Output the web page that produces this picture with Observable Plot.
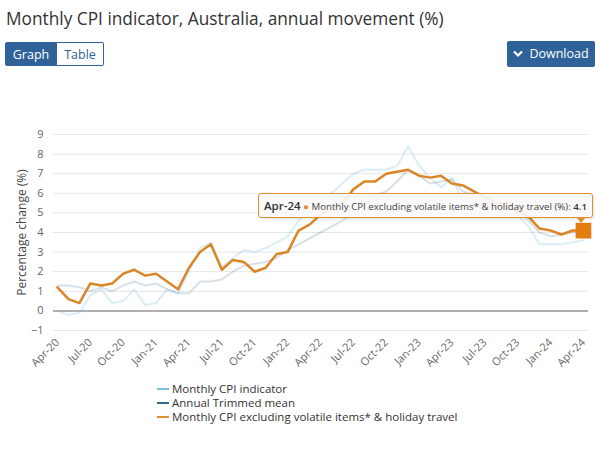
<!DOCTYPE html>
<html><head><meta charset="utf-8">
<script src="https://cdn.jsdelivr.net/npm/d3@7"></script>
<script src="https://cdn.jsdelivr.net/npm/@observablehq/plot@0.6"></script>
<style>
html,body{margin:0;padding:0;background:#fff}
body{width:601px;height:452px;position:relative;overflow:hidden;font-family:"Open Sans",sans-serif;color:#333}
#title{position:absolute;left:6px;top:7px;font-size:17.3px;line-height:24px;white-space:nowrap;color:#333}
.btn{position:absolute;top:42px;height:24px;line-height:24px;font-size:12.5px;box-sizing:border-box;text-align:center}
#graph{left:5px;width:52px;background:#2e6299;color:#fff;border:1px solid #2e6299;border-radius:2px 0 0 2px}
#table{left:57px;width:47px;background:#fff;color:#2e6299;border:1px solid #2e6299;border-left:none;border-radius:0 2px 2px 0}
#download{left:507px;width:88px;height:26px;line-height:26px;top:41px;background:#2e6299;color:#fff;border-radius:2px}
#download svg{vertical-align:middle;margin-right:6px;margin-top:-2px}
#chart{position:absolute;left:0;top:120px}
#tip{position:absolute;box-sizing:border-box;height:25px;line-height:23px;padding:0 5px;background:rgba(248,248,248,0.92);border:1px solid #e0902f;border-radius:3px;font-size:9.7px;color:#444;white-space:nowrap;box-shadow:1px 1px 2px rgba(0,0,0,0.12)}
#tip b{font-weight:600;color:#333}
#tip .big{font-size:11.5px}
#tip:after{content:"";position:absolute;right:6px;bottom:-6px;width:0;height:0;border-left:5px solid transparent;border-right:5px solid transparent;border-top:6px solid #e0902f}
#legend{position:absolute;left:157px;top:382px;font-size:11.5px;line-height:14px;color:#333}
#legend .sw{display:inline-block;width:12px;height:2px;vertical-align:middle;margin-right:3px;margin-top:-2px}
</style></head><body>
<div id="title">Monthly CPI indicator, Australia, annual movement (%)</div>
<div class="btn" id="graph">Graph</div>
<div class="btn" id="table">Table</div>
<div class="btn" id="download"><svg width="10" height="8" viewBox="0 0 10 8"><path d="M1 1.5 L5 5.5 L9 1.5" fill="none" stroke="#fff" stroke-width="2.2"/></svg>Download</div>
<div id="chart"></div>
<div id="tip"></div>
<div id="legend"></div>
<script>
const months = ["Apr-20","May-20","Jun-20","Jul-20","Aug-20","Sep-20","Oct-20","Nov-20","Dec-20",
  "Jan-21","Feb-21","Mar-21","Apr-21","May-21","Jun-21","Jul-21","Aug-21","Sep-21","Oct-21","Nov-21","Dec-21",
  "Jan-22","Feb-22","Mar-22","Apr-22","May-22","Jun-22","Jul-22","Aug-22","Sep-22","Oct-22","Nov-22","Dec-22",
  "Jan-23","Feb-23","Mar-23","Apr-23","May-23","Jun-23","Jul-23","Aug-23","Sep-23","Oct-23","Nov-23","Dec-23",
  "Jan-24","Feb-24","Mar-24","Apr-24"];
const monthlyCPI = [0.0,-0.2,-0.1,0.8,1.1,0.4,0.5,1.1,0.3,
  0.4,1.1,0.9,2.0,3.2,3.5,2.2,2.7,3.1,3.0,3.2,3.5,
  3.8,4.6,5.2,5.6,6.0,6.5,7.0,7.2,7.2,7.2,7.4,8.4,
  7.4,6.8,6.3,6.8,5.6,5.4,4.9,5.2,5.6,4.9,4.3,3.4,
  3.4,3.4,3.5,3.6];
const trimmedMean = [1.3,1.3,1.2,1.0,1.2,1.0,1.3,1.5,1.3,
  1.4,1.1,0.9,0.9,1.5,1.5,1.6,2.0,2.3,2.4,2.5,2.7,
  3.1,3.4,3.7,4.0,4.3,4.6,5.0,5.4,5.9,6.1,6.6,7.2,
  6.9,6.5,6.6,6.7,6.1,5.9,5.6,5.5,5.3,5.1,4.6,4.0,
  3.8,3.9,4.0,4.1];
const exVolatile = [1.2,0.6,0.4,1.4,1.3,1.4,1.9,2.1,1.8,
  1.9,1.5,1.1,2.2,3.0,3.4,2.1,2.6,2.5,2.0,2.2,2.9,
  3.0,4.1,4.4,4.9,5.2,5.5,6.2,6.6,6.6,7.0,7.1,7.2,
  6.9,6.8,6.9,6.5,6.4,6.1,5.8,5.5,5.5,5.1,4.8,4.2,
  4.1,3.9,4.1,4.1];
const seriesNames = ["Monthly CPI indicator","Annual Trimmed mean","Monthly CPI excluding volatile items* & holiday travel"];
const seriesColors = ["#7cc0df","#3a6688","#e0902f"];
const yTicks = [-1,0,1,2,3,4,5,6,7,8,9];
const xTickLabels = ["Apr-20","Jul-20","Oct-20","Jan-21","Apr-21","Jul-21","Oct-21","Jan-22","Apr-22","Jul-22","Oct-22","Jan-23","Apr-23","Jul-23","Oct-23","Jan-24","Apr-24"];
const yTitle = "Percentage change (%)";

const seriesValues = [monthlyCPI, trimmedMean, exVolatile];
const rows = seriesNames.map((name, s) => months.map((m, i) => ({i, month: m, value: seriesValues[s][i], series: name})));
const xTicks = xTickLabels.map(l => months.indexOf(l));
const last = rows[2][rows[2].length - 1];

const chart = Plot.plot({
  width: 601, height: 262,
  marginLeft: 53, marginRight: 13, marginTop: 14, marginBottom: 52,
  style: {fontFamily: '"Open Sans", sans-serif', fontSize: "11px", color: "#666", background: "transparent", overflow: "visible"},
  x: {type: "linear", domain: [-0.365, 48.46], ticks: xTicks, tickFormat: i => months[i], tickRotate: -45, tickSize: 0, tickPadding: 10, label: null},
  y: {domain: [-1, 9], ticks: yTicks, tickSize: 0, tickPadding: 10, label: null},
  marks: [
    Plot.gridY(yTicks, {stroke: "#e6e6e6", strokeOpacity: 1}),
    Plot.ruleY([0], {stroke: "#9a9a9a", strokeWidth: 1.5}),
    Plot.line(rows[1], {x: "i", y: "value", stroke: seriesColors[1], strokeOpacity: 0.2, strokeWidth: 2}),
    Plot.line(rows[0], {x: "i", y: "value", stroke: seriesColors[0], strokeOpacity: 0.28, strokeWidth: 2}),
    Plot.line(rows[2], {x: "i", y: "value", stroke: "#dc8527", strokeWidth: 2.5}),
    Plot.dot([last], {x: "i", y: "value", symbol: "square", r: 8, fill: "#e27d12", stroke: "#e27d12"}),
    Plot.text([yTitle], {frameAnchor: "left", textAnchor: "middle", rotate: -90, dx: -31, fontSize: 12, fill: "#444"})
  ]
});
document.getElementById("chart").appendChild(chart);

const px = chart.scale("x").apply(last.i);
const py = chart.scale("y").apply(last.value) + 120;
const tip = document.getElementById("tip");
tip.innerHTML = `<b class="big">${last.month}</b> <span style="color:${seriesColors[2]}">●</span> ${last.series} (%): <b>${last.value.toFixed(1)}</b>`;
const tw = tip.offsetWidth;
tip.style.left = (px + 10 - tw) + "px";
tip.style.top = (py - 37) + "px";

document.getElementById("legend").innerHTML = seriesNames.map((n, s) =>
  `<div><span class="sw" style="background:${seriesColors[s]}"></span>${n}</div>`).join("");
</script>
</body></html>
